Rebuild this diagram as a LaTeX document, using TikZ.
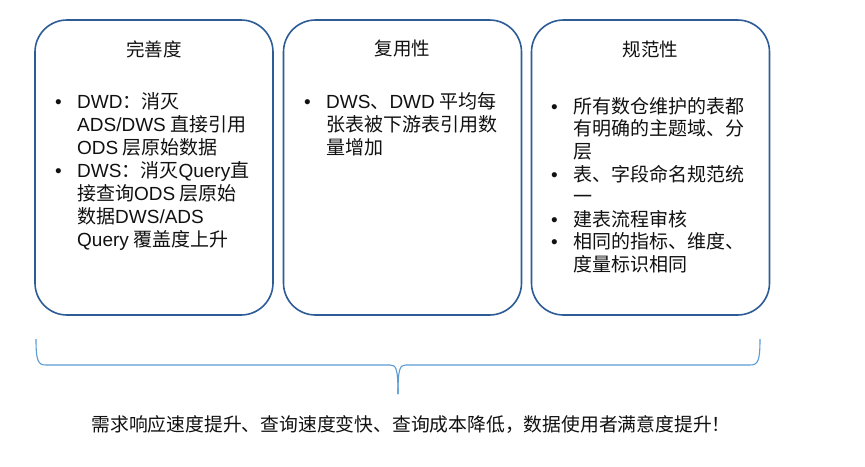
\documentclass[tikz,border=0pt]{standalone}
\usepackage{fontspec}
\setmainfont{Noto Sans CJK SC}
\newfontfamily\lat{Liberation Sans}
\definecolor{boxblue}{HTML}{2E5C96}
\definecolor{braceblue}{HTML}{5B9BD5}
\definecolor{ink}{HTML}{111111}
\newcommand{\bul}{\llap{\makebox[22pt][l]{\lat •}}}
\begin{document}
\begin{tikzpicture}[x=1pt,y=-1pt,
  panel/.style={draw=boxblue, line width=1.6pt, rounded corners=32pt,
    minimum width=238pt, minimum height=295pt, inner sep=0pt},
  title/.style={font=\fontsize{18.5}{22}\selectfont, text=ink, inner sep=0pt},
  body/.style={font=\fontsize{19}{23}\selectfont, text=ink, align=left,
    anchor=north west, inner sep=0pt},
  bracepath/.style={draw=braceblue, line width=1.1pt}]
\useasboundingbox[fill=white] (0,0) rectangle (865,466);

% panels
\node[panel] (p1) at (154,167.5) {};
\node[panel] (p2) at (402.5,167.5) {};
\node[panel] (p3) at (650.5,167.5) {};

% titles
\node[title] (t1) at (154,49) {完善度};
\node[title] (t2) at (402.5,49) {复用性};
\node[title] (t3) at (650.5,49) {规范性};

% bodies
\node[body] (c1) at (77,92) {\bul{\lat DWD}：消灭\\
{\lat ADS/DWS} 直接引用\\
{\lat ODS} 层原始数据\\
\bul{\lat DWS}：消灭{\lat Query}直\\
接查询{\lat ODS} 层原始\\
数据{\lat DWS/ADS}\\
{\lat Query} 覆盖度上升};

\node[body] (c2) at (326,92) {\bul{\lat DWS}、{\lat DWD} 平均每\\
张表被下游表引用数\\
量增加};

\node[body, font=\fontsize{19}{22.6}\selectfont] (c3) at (573,97) {\bul 所有数仓维护的表都\\
有明确的主题域、分\\
层\\
\bul 表、字段命名规范统\\
一\\
\bul 建表流程审核\\
\bul 相同的指标、维度、\\
度量标识相同};

% brace
\coordinate (bl) at (36,339);
\coordinate (br) at (760,339);
\coordinate (tip) at (398,394);
\draw[bracepath] (bl) .. controls (36,361) and (38,365) .. (46,365)
  -- (390,365) .. controls (396,365) and (398,368) .. (tip);
\draw[bracepath] (br) .. controls (760,361) and (758,365) .. (750,365)
  -- (406,365) .. controls (400,365) and (398,368) .. (tip);

% conclusion
\node[title, font=\fontsize{18.8}{22}\selectfont] (concl) at (411,425) {需求响应速度提升、查询速度变快、查询成本降低，数据使用者满意度提升！};
\end{tikzpicture}
\end{document}
